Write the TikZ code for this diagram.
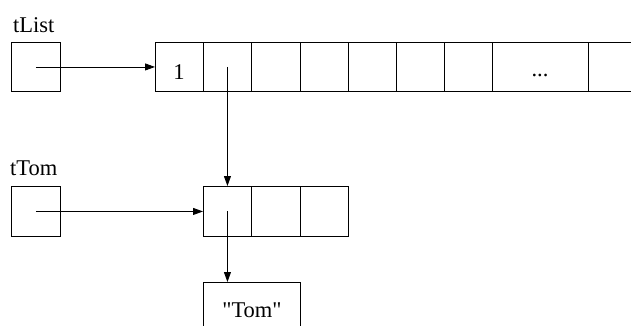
\documentclass[tikz,border=0pt]{standalone}
\usepackage{fontspec}
\setmainfont{Liberation Serif}[Ligatures=TeXOff]
\usetikzlibrary{arrows.meta}
\begin{document}
\begin{tikzpicture}[x=1pt,y=-1pt,
  cell/.style={draw, line width=0.9pt, inner sep=0pt, anchor=north west},
  lbl/.style={inner sep=0pt, anchor=base west, font=\fontsize{22.5}{27}\selectfont},
  txt/.style={inner sep=0pt, anchor=base, font=\fontsize{22.5}{27}\selectfont},
  ptr/.style={line width=0.9pt, -{Triangle[length=10pt,width=7pt]}}]
\useasboundingbox (0,0) rectangle (631,325);
\clip (0,0) rectangle (631,325);
% labels
\node[lbl] (lblList) at (13,32) {tList};
\node[lbl] (lblTom) at (10,175) {tTom};
% variable boxes
\node[cell, minimum width=49pt, minimum height=49pt] (vList) at (11,42) {};
\node[cell, minimum width=49pt, minimum height=50pt] (vTom) at (11,186) {};
% list array
\node[cell, minimum width=48pt, minimum height=49pt] (a1) at (155,42) {};
\node[cell, minimum width=48pt, minimum height=49pt] (a2) at (203,42) {};
\node[cell, minimum width=49pt, minimum height=49pt] (a3) at (251,42) {};
\node[cell, minimum width=48pt, minimum height=49pt] (a4) at (300,42) {};
\node[cell, minimum width=48pt, minimum height=49pt] (a5) at (348,42) {};
\node[cell, minimum width=48pt, minimum height=49pt] (a6) at (396,42) {};
\node[cell, minimum width=48pt, minimum height=49pt] (a7) at (444,42) {};
\node[cell, minimum width=96pt, minimum height=49pt] (a8) at (492,42) {};
\node[cell, minimum width=60pt, minimum height=49pt] (a9) at (588,42) {};
\node[txt] (a1txt) at (179,79) {1};
\node[txt] (a8txt) at (540,76) {...};
% Tom record
\node[cell, minimum width=48pt, minimum height=50pt] (t1) at (203,186) {};
\node[cell, minimum width=49pt, minimum height=50pt] (t2) at (251,186) {};
\node[cell, minimum width=48pt, minimum height=50pt] (t3) at (300,186) {};
% string box
\node[cell, minimum width=97pt, minimum height=50pt] (str) at (203,282) {};
\node[txt] (strtxt) at (252,317) {"Tom"};
% pointers
\draw[ptr] (vList.center) -- (a1.west);
\draw[ptr] (a2.center) -- (a2.center |- t1.north);
\draw[ptr] (vTom.center) -- (t1.west);
\draw[ptr] (t1.center) -- (t1.center |- str.north);
\end{tikzpicture}
\end{document}
